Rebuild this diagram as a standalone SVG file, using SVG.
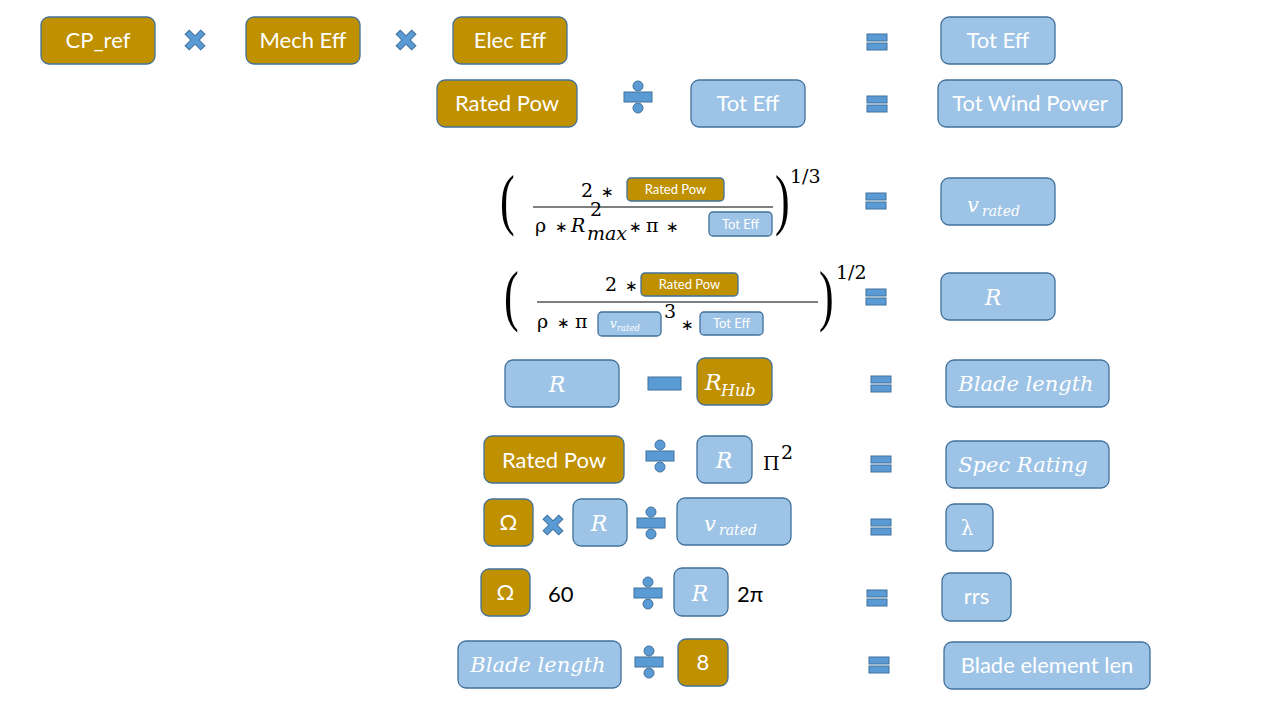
<svg xmlns="http://www.w3.org/2000/svg" xmlns:xlink="http://www.w3.org/1999/xlink" width="1280" height="720" viewBox="0 0 1280 720">
<style>
.gold{fill:#BF9000;stroke:#41719C;stroke-width:1.3}
.blue{fill:#9DC3E6;stroke:#41719C;stroke-width:1.3}
.op{fill:#5B9BD5;stroke:#41719C;stroke-width:1}
.lbl{font-family:Lato,"Liberation Sans",sans-serif;font-size:22px;fill:#FFFFFF;text-anchor:middle}
.sm{font-family:Lato,"Liberation Sans",sans-serif;font-size:13px;fill:#FFFFFF;text-anchor:middle}
.mi{font-family:"DejaVu Serif","Liberation Serif",serif;font-style:italic;fill:#FFFFFF}
.mu{font-family:"DejaVu Serif","Liberation Serif",serif;fill:#FFFFFF}
.m{font-family:"DejaVu Serif","Liberation Serif",serif;font-size:19px;fill:#000000}
.ast{font-family:"DejaVu Sans",sans-serif;font-size:15px;fill:#000000}
.blk{font-family:Lato,"Liberation Sans",sans-serif;font-size:22px;fill:#000000}
.par{font-family:"Liberation Serif",serif;font-size:44px;fill:#000000}
.fl{stroke:#000000;stroke-width:1.2}
</style>
<defs>
<g id="eq"><rect class="op" x="-10" y="-8" width="20" height="7"/><rect class="op" x="-10" y="1" width="20" height="7"/></g>
<g id="div"><circle class="op" cx="0" cy="-11" r="5"/><rect class="op" x="-14" y="-5" width="28" height="10"/><circle class="op" cx="0" cy="11" r="5"/></g>
<g id="mul"><path class="op" d="M-3,-11 H3 V-3 H11 V3 H3 V11 H-3 V3 H-11 V-3 H-3 Z" transform="rotate(45)"/></g>
</defs>

<g id="operators">
<use xlink:href="#mul" x="195" y="40"/>
<use xlink:href="#mul" x="406" y="40"/>
<use xlink:href="#eq" x="877" y="42"/>
<use xlink:href="#div" x="638" y="97"/>
<use xlink:href="#eq" x="877" y="104"/>
<use xlink:href="#eq" x="876" y="201"/>
<use xlink:href="#eq" x="876" y="297"/>
<rect class="op" x="648" y="377" width="33" height="13"/>
<use xlink:href="#eq" x="881" y="384"/>
<use xlink:href="#div" x="660" y="456"/>
<use xlink:href="#eq" x="881" y="464"/>
<use xlink:href="#mul" x="553" y="525"/>
<use xlink:href="#div" x="651" y="523"/>
<use xlink:href="#eq" x="881" y="527"/>
<use xlink:href="#div" x="648" y="593"/>
<use xlink:href="#eq" x="877" y="598"/>
<use xlink:href="#div" x="649" y="662"/>
<use xlink:href="#eq" x="879" y="665"/>
</g>

<g id="n-cpref"><rect class="gold" x="41" y="17" width="114" height="47" rx="8"/><text class="lbl" x="98" y="48">CP_ref</text></g>
<g id="n-mecheff"><rect class="gold" x="246" y="17" width="114" height="47" rx="8"/><text class="lbl" x="303" y="48">Mech Eff</text></g>
<g id="n-eleceff"><rect class="gold" x="453" y="17" width="114" height="47" rx="8"/><text class="lbl" x="510" y="48">Elec Eff</text></g>
<g id="n-toteff1"><rect class="blue" x="941" y="17" width="114" height="47" rx="8"/><text class="lbl" x="998" y="48">Tot Eff</text></g>

<g id="n-ratedpow1"><rect class="gold" x="437" y="80" width="140" height="47" rx="8"/><text class="lbl" x="507" y="111">Rated Pow</text></g>
<g id="n-toteff2"><rect class="blue" x="691" y="80" width="114" height="47" rx="8"/><text class="lbl" x="748" y="111">Tot Eff</text></g>
<g id="n-totwind"><rect class="blue" x="938" y="80" width="184" height="47" rx="8"/><text class="lbl" x="1030" y="111" font-size="21">Tot Wind Power</text></g>

<g id="formula-vrated">
<text class="par" transform="translate(500,222) scale(1,1.55)">(</text>
<text class="m" x="581" y="197">2</text>
<text class="ast" x="601" y="197">∗</text>
<rect class="gold" x="627" y="178" width="97" height="23" rx="4"/><text class="sm" x="675.5" y="194">Rated Pow</text>
<line class="fl" x1="533" y1="207" x2="773" y2="207"/>
<text class="m" x="535" y="232">ρ</text>
<text class="ast" x="555" y="232">∗</text>
<text class="m" x="571" y="232" font-style="italic">R</text>
<text class="m" x="590" y="216" font-size="13">2</text>
<text class="m" x="587" y="240" font-size="14" font-style="italic">max</text>
<text class="ast" x="629" y="232">∗</text>
<text class="m" x="646" y="232">π</text>
<text class="ast" x="666" y="232">∗</text>
<rect class="blue" x="709" y="212" width="63" height="24" rx="4"/><text class="sm" x="740.5" y="229">Tot Eff</text>
<text class="par" transform="translate(775,222) scale(1,1.55)">)</text>
<text class="m" x="790" y="183" font-size="14">1/3</text>
</g>
<g id="n-vrated"><rect class="blue" x="941" y="178" width="114" height="47" rx="8"/><text class="mi" x="967" y="212" font-size="21">v</text><text class="mi" x="982" y="216" font-size="14">rated</text></g>

<g id="formula-R">
<text class="par" transform="translate(504,318) scale(1,1.55)">(</text>
<text class="m" x="605" y="291">2</text>
<text class="ast" x="625" y="291">∗</text>
<rect class="gold" x="641" y="273" width="97" height="23" rx="4"/><text class="sm" x="689.5" y="289">Rated Pow</text>
<line class="fl" x1="537" y1="302" x2="818" y2="302"/>
<text class="m" x="537" y="328">ρ</text>
<text class="ast" x="557" y="328">∗</text>
<text class="m" x="575" y="328">π</text>
<rect class="blue" x="598" y="312" width="63" height="24" rx="4"/><text class="mi" x="610" y="328" font-size="12">v</text><text class="mi" x="617" y="331" font-size="8.5">rated</text>
<text class="m" x="664" y="318" font-size="14">3</text>
<text class="ast" x="681" y="330">∗</text>
<rect class="blue" x="700" y="312" width="63" height="23" rx="4"/><text class="sm" x="731.5" y="328">Tot Eff</text>
<text class="par" transform="translate(819,318) scale(1,1.55)">)</text>
<text class="m" x="836" y="279" font-size="14">1/2</text>
</g>
<g id="n-R1"><rect class="blue" x="941" y="273" width="114" height="47" rx="8"/><text class="mi" x="993" y="305" font-size="22" text-anchor="middle">R</text></g>

<g id="n-R2"><rect class="blue" x="505" y="360" width="114" height="47" rx="8"/><text class="mi" x="557" y="392" font-size="22" text-anchor="middle">R</text></g>
<g id="n-rhub"><rect class="gold" x="697" y="358" width="75" height="47" rx="8"/><text class="mi" x="705" y="390" font-size="22">R</text><text class="mi" x="721" y="396" font-size="16">Hub</text></g>
<g id="n-blade1"><rect class="blue" x="946" y="360" width="163" height="47" rx="8"/><text class="mi" x="1026" y="391" font-size="21" text-anchor="middle">Blade length</text></g>

<g id="n-ratedpow2"><rect class="gold" x="484" y="436" width="140" height="47" rx="8"/><text class="lbl" x="554" y="468">Rated Pow</text></g>
<g id="n-R3"><rect class="blue" x="697" y="436" width="55" height="47" rx="8"/><text class="mi" x="724" y="468" font-size="22" text-anchor="middle">R</text></g>
<text class="m" x="763" y="470" font-size="22">Π</text><text class="m" x="781" y="459" font-size="14">2</text>
<g id="n-spec"><rect class="blue" x="946" y="441" width="163" height="47" rx="8"/><text class="mi" x="1023" y="472" font-size="21" text-anchor="middle">Spec Rating</text></g>

<g id="n-omega1"><rect class="gold" x="484" y="499" width="49" height="47" rx="8"/><text class="lbl" x="508.5" y="530">Ω</text></g>
<g id="n-R4"><rect class="blue" x="573" y="499" width="54" height="47" rx="8"/><text class="mi" x="599" y="531" font-size="22" text-anchor="middle">R</text></g>
<g id="n-vrated2"><rect class="blue" x="677" y="498" width="114" height="47" rx="8"/><text class="mi" x="704" y="531" font-size="21">v</text><text class="mi" x="719" y="535" font-size="14">rated</text></g>
<g id="n-lambda"><rect class="blue" x="946" y="504" width="47" height="47" rx="8"/><text class="mu" x="967" y="535" font-size="20" text-anchor="middle">λ</text></g>

<g id="n-omega2"><rect class="gold" x="481" y="569" width="49" height="47" rx="8"/><text class="lbl" x="505.5" y="600">Ω</text></g>
<text class="blk" x="548" y="602">60</text>
<g id="n-R5"><rect class="blue" x="674" y="568" width="54" height="48" rx="8"/><text class="mi" x="700" y="601" font-size="22" text-anchor="middle">R</text></g>
<text class="blk" x="737" y="602">2π</text>
<g id="n-rrs"><rect class="blue" x="942" y="573" width="69" height="48" rx="8"/><text class="lbl" x="976.5" y="604">rrs</text></g>

<g id="n-blade2"><rect class="blue" x="458" y="641" width="163" height="47" rx="8"/><text class="mi" x="538" y="672" font-size="21" text-anchor="middle">Blade length</text></g>
<g id="n-eight"><rect class="gold" x="678" y="639" width="50" height="47" rx="8"/><text class="lbl" x="703" y="670">8</text></g>
<g id="n-bladeelem"><rect class="blue" x="944" y="642" width="206" height="47" rx="8"/><text class="lbl" x="1047" y="673">Blade element len</text></g>
</svg>
